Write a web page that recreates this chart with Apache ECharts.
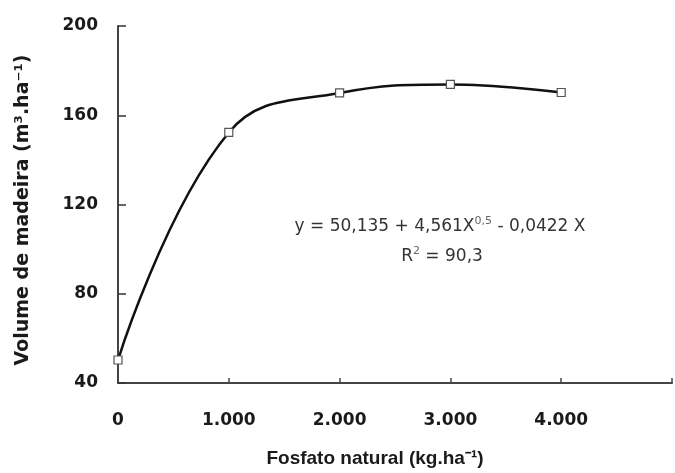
<!DOCTYPE html>
<html>
<head>
<meta charset="utf-8">
<script src="https://cdn.jsdelivr.net/npm/echarts@6/dist/echarts.min.js"></script>
<style>html,body{margin:0;padding:0;background:#fff;}#c{width:675px;height:473px;}</style>
</head>
<body>
<div id="c"></div>
<script>
const doses = [0, 1000, 2000, 3000, 4000];
const volume = [50.3, 152.3, 170.0, 173.8, 170.2];
const xTicks = [0, 1000, 2000, 3000, 4000];
const yTicks = [40, 80, 120, 160, 200];
const xTitle = 'Fosfato natural (kg.ha⁻¹)';
const yTitle = 'Volume de madeira (m³.ha⁻¹)';

const chart = echarts.init(document.getElementById('c'));
const bold = {fontFamily: 'DejaVu Sans', fontWeight: 'bold', fontSize: 17, color: '#1a1a1a'};
const richEq = {
  a: {fontFamily: 'DejaVu Sans', fontSize: 17, fill: '#333', lineHeight: 22},
  s: {fontFamily: 'DejaVu Sans', fontSize: 11, fill: '#666', verticalAlign: 'top', lineHeight: 22}
};
chart.setOption({
  animation: false,
  backgroundColor: '#fff',
  grid: {left: 118, top: 26, bottom: 88, right: -5, containLabel: false},
  xAxis: {
    type: 'value', min: 0, max: 5000, interval: 1000,
    axisLine: {lineStyle: {color: '#444', width: 2}},
    axisTick: {inside: true, length: 5, lineStyle: {color: '#444', width: 1.5}},
    splitLine: {show: false},
    axisLabel: Object.assign({margin: 29, formatter: v => xTicks.indexOf(v) >= 0 ? (v === 0 ? '0' : (v / 1000) + '.000') : ''}, bold),
    name: xTitle, nameLocation: 'middle', nameGap: 66,
    nameTextStyle: {fontFamily: 'Liberation Sans', fontWeight: 'bold', fontSize: 19, color: '#1a1a1a', padding: [0, 40, 0, 0]}
  },
  yAxis: {
    type: 'value', min: 40, max: 200, interval: 40,
    axisLine: {lineStyle: {color: '#444', width: 2}},
    axisTick: {inside: true, length: 8, lineStyle: {color: '#333', width: 1.5}},
    splitLine: {show: false},
    axisLabel: Object.assign({margin: 20, formatter: v => yTicks.indexOf(v) >= 0 ? String(v) : ''}, bold),
    name: yTitle, nameLocation: 'middle', nameGap: 85, nameRotate: 90,
    nameTextStyle: {fontFamily: 'DejaVu Sans', fontWeight: 'bold', fontSize: 19, color: '#1a1a1a', padding: [0, 11, 0, 0]}
  },
  graphic: [
    {type: 'text', x: 440, y: 227, style: {
      text: '{a|y = 50,135 + 4,561X}{s|0,5}{a| - 0,0422 X}', align: 'center', verticalAlign: 'middle', rich: richEq
    }},
    {type: 'text', x: 442, y: 257, style: {
      text: '{a|R}{s|2}{a| = 90,3}', align: 'center', verticalAlign: 'middle', rich: richEq
    }}
  ],
  series: [{
    type: 'line',
    data: doses.map((d, i) => [d, volume[i]]),
    smooth: 0.42,
    lineStyle: {color: '#111', width: 2.5},
    symbol: 'rect', symbolSize: 8,
    itemStyle: {color: '#fff', borderColor: '#555', borderWidth: 1.2},
    z: 3
  }]
});
</script>
</body>
</html>
